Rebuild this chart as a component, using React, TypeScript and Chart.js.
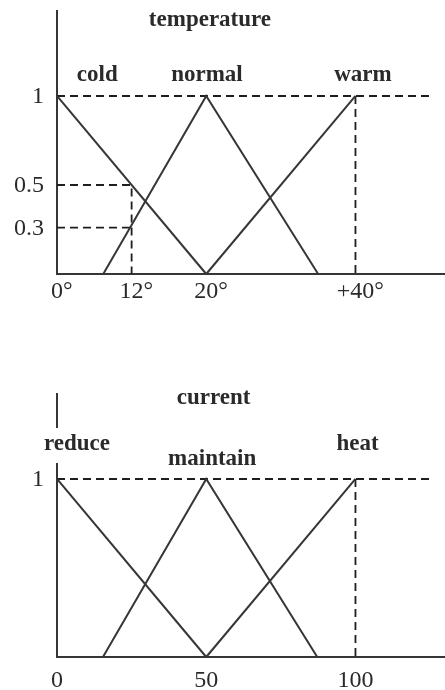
import React, { useEffect, useRef } from "react";
import { Chart, registerables } from "chart.js";

Chart.register(...registerables);

// ---------- Temperature (top) ----------
const tempXTicks = [0, 10, 20, 40];
const tempXTickLabels = ["0°", "12°", "20°", "+40°"];
const tempYTicks = [1, 0.5, 0.26];
const tempYTickLabels = ["1", "0.5", "0.3"];
const tempCold = [{ x: 0, y: 1 }, { x: 20, y: 0 }];
const tempNormal = [{ x: 6.2, y: 0 }, { x: 20, y: 1 }, { x: 35, y: 0 }];
const tempWarm = [{ x: 20, y: 0 }, { x: 40, y: 1 }];
const tempGuideTop = [{ x: 0, y: 1 }, { x: 50.3, y: 1 }];
const tempGuideWarm = [{ x: 40, y: 1 }, { x: 40, y: 0 }];
const tempGuideHalf = [{ x: 0, y: 0.5 }, { x: 10, y: 0.5 }, { x: 10, y: 0 }];
const tempGuideLow = [{ x: 0, y: 0.26 }, { x: 10, y: 0.26 }];
const tempTitle = { text: "temperature", x: 20.5, y: 1.393 };
const tempSetNames = [
  { text: "cold", x: 5.4, y: 1.084 },
  { text: "normal", x: 20.1, y: 1.084 },
  { text: "warm", x: 41, y: 1.084 },
];
const tempXMax = 52;

// ---------- Current (bottom) ----------
const curXTicks = [0, 50, 100];
const curXTickLabels = ["0", "50", "100"];
const curYTicks = [1];
const curYTickLabels = ["1"];
const curReduce = [{ x: 0, y: 1 }, { x: 50, y: 0 }];
const curMaintain = [{ x: 15.4, y: 0 }, { x: 50, y: 1 }, { x: 87.2, y: 0 }];
const curHeat = [{ x: 50, y: 0 }, { x: 100, y: 1 }];
const curGuideTop = [{ x: 0, y: 1 }, { x: 126, y: 1 }];
const curGuideHeat = [{ x: 100, y: 1 }, { x: 100, y: 0 }];
const curTitle = { text: "current", x: 52.5, y: 1.421 };
const curSetNames = [
  { text: "reduce", x: 6.7, y: 1.163 },
  { text: "maintain", x: 52, y: 1.079 },
  { text: "heat", x: 100.7, y: 1.163 },
];
const curXMax = 130;

const Y_MAX = 1.483;
const LINE = "#363636";
const DASH = "#1e1e1e";
const TEXT = "#2a2a2a";
const WORD_FONT = "bold 23px 'Liberation Serif', 'DejaVu Serif', serif";
const TICK_FONT = "24px 'Liberation Serif', 'DejaVu Serif', serif";

type Pt = { x: number; y: number };
type Lbl = { text: string; x: number; y: number };
type Spec = {
  sets: Pt[][];
  guides: Pt[][];
  xTicks: number[];
  xTickLabels: string[];
  yTicks: number[];
  yTickLabels: string[];
  labels: Lbl[];
  xMax: number;
  yAxisSegments: [number, number][];
  xLabelBaseline: number;
};

const tempSpec: Spec = {
  sets: [tempCold, tempNormal, tempWarm],
  guides: [tempGuideTop, tempGuideWarm, tempGuideHalf, tempGuideLow],
  xTicks: tempXTicks,
  xTickLabels: tempXTickLabels,
  yTicks: tempYTicks,
  yTickLabels: tempYTickLabels,
  labels: [tempTitle, ...tempSetNames],
  xMax: tempXMax,
  yAxisSegments: [[0, Y_MAX]],
  xLabelBaseline: 24,
};

const curSpec: Spec = {
  sets: [curReduce, curMaintain, curHeat],
  guides: [curGuideTop, curGuideHeat],
  xTicks: curXTicks,
  xTickLabels: curXTickLabels,
  yTicks: curYTicks,
  yTickLabels: curYTickLabels,
  labels: [curTitle, ...curSetNames],
  xMax: curXMax,
  yAxisSegments: [[0, 1.09], [1.287, Y_MAX]],
  xLabelBaseline: 30,
};

function axesPlugin(spec: Spec) {
  return {
    id: "fuzzyAxes",
    beforeDatasetsDraw(chart: any) {
      const { ctx } = chart;
      const xs = chart.scales.x;
      const ys = chart.scales.y;
      const x0 = xs.getPixelForValue(0);
      const yb = ys.getPixelForValue(0);
      ctx.save();
      ctx.strokeStyle = LINE;
      ctx.lineWidth = 2;
      ctx.beginPath();
      for (const [a, b] of spec.yAxisSegments) {
        ctx.moveTo(x0, ys.getPixelForValue(a) + (a === 0 ? 1 : 0));
        ctx.lineTo(x0, ys.getPixelForValue(b));
      }
      ctx.moveTo(x0 - 1, yb);
      ctx.lineTo(xs.right, yb);
      ctx.stroke();
      ctx.restore();
    },
    afterDraw(chart: any) {
      const { ctx } = chart;
      const xs = chart.scales.x;
      const ys = chart.scales.y;
      const x0 = xs.getPixelForValue(0);
      const yb = ys.getPixelForValue(0);
      ctx.save();
      ctx.fillStyle = TEXT;
      ctx.font = TICK_FONT;
      // x tick labels: center the number part on the tick, degree sign hangs right
      ctx.textBaseline = "alphabetic";
      ctx.textAlign = "left";
      spec.xTicks.forEach((v, i) => {
        const lab = spec.xTickLabels[i];
        const core = lab.replace(/°$/, "");
        const w = ctx.measureText(core).width;
        ctx.fillText(lab, xs.getPixelForValue(v) - w / 2, yb + spec.xLabelBaseline);
      });
      // y tick labels
      ctx.textAlign = "right";
      ctx.textBaseline = "middle";
      spec.yTicks.forEach((v, i) => {
        ctx.fillText(spec.yTickLabels[i], x0 - 13, ys.getPixelForValue(v) + 1);
      });
      // titles & set names
      ctx.font = WORD_FONT;
      ctx.textAlign = "center";
      ctx.textBaseline = "alphabetic";
      spec.labels.forEach((l) => {
        ctx.fillText(l.text, xs.getPixelForValue(l.x), ys.getPixelForValue(l.y));
      });
      ctx.restore();
    },
  };
}

function buildConfig(spec: Spec, height: number): any {
  const datasets = [
    ...spec.sets.map((pts) => ({
      data: pts,
      borderColor: LINE,
      borderWidth: 2,
      showLine: true,
      pointRadius: 0,
      clip: false,
      tension: 0,
    })),
    ...spec.guides.map((pts) => ({
      data: pts,
      borderColor: DASH,
      borderWidth: 1.8,
      borderDash: [8, 5],
      showLine: true,
      pointRadius: 0,
      clip: false,
      tension: 0,
    })),
  ];
  return {
    type: "scatter",
    data: { datasets },
    options: {
      animation: false,
      responsive: false,
      events: [],
      layout: { padding: { left: 57, right: 0, top: 10, bottom: height - 274 } },
      scales: {
        x: { type: "linear", display: false, min: 0, max: spec.xMax },
        y: { type: "linear", display: false, min: 0, max: Y_MAX },
      },
      plugins: { legend: { display: false }, tooltip: { enabled: false } },
    },
    plugins: [axesPlugin(spec)],
  };
}

function FuzzyChart({ spec, top, height }: { spec: Spec; top: number; height: number }) {
  const ref = useRef<HTMLCanvasElement>(null);
  useEffect(() => {
    const chart = new Chart(ref.current as HTMLCanvasElement, buildConfig(spec, height));
    return () => chart.destroy();
  }, [spec, height]);
  return (
    <canvas
      ref={ref}
      width={445}
      height={height}
      style={{ position: "absolute", left: 0, top, width: 445, height, display: "block" }}
    />
  );
}

export default function App() {
  return (
    <div
      style={{
        position: "fixed",
        left: 0,
        top: 0,
        width: 445,
        height: 690,
        background: "#ffffff",
        overflow: "hidden",
      }}
    >
      <FuzzyChart spec={tempSpec} top={0} height={383} />
      <FuzzyChart spec={curSpec} top={383} height={307} />
    </div>
  );
}
